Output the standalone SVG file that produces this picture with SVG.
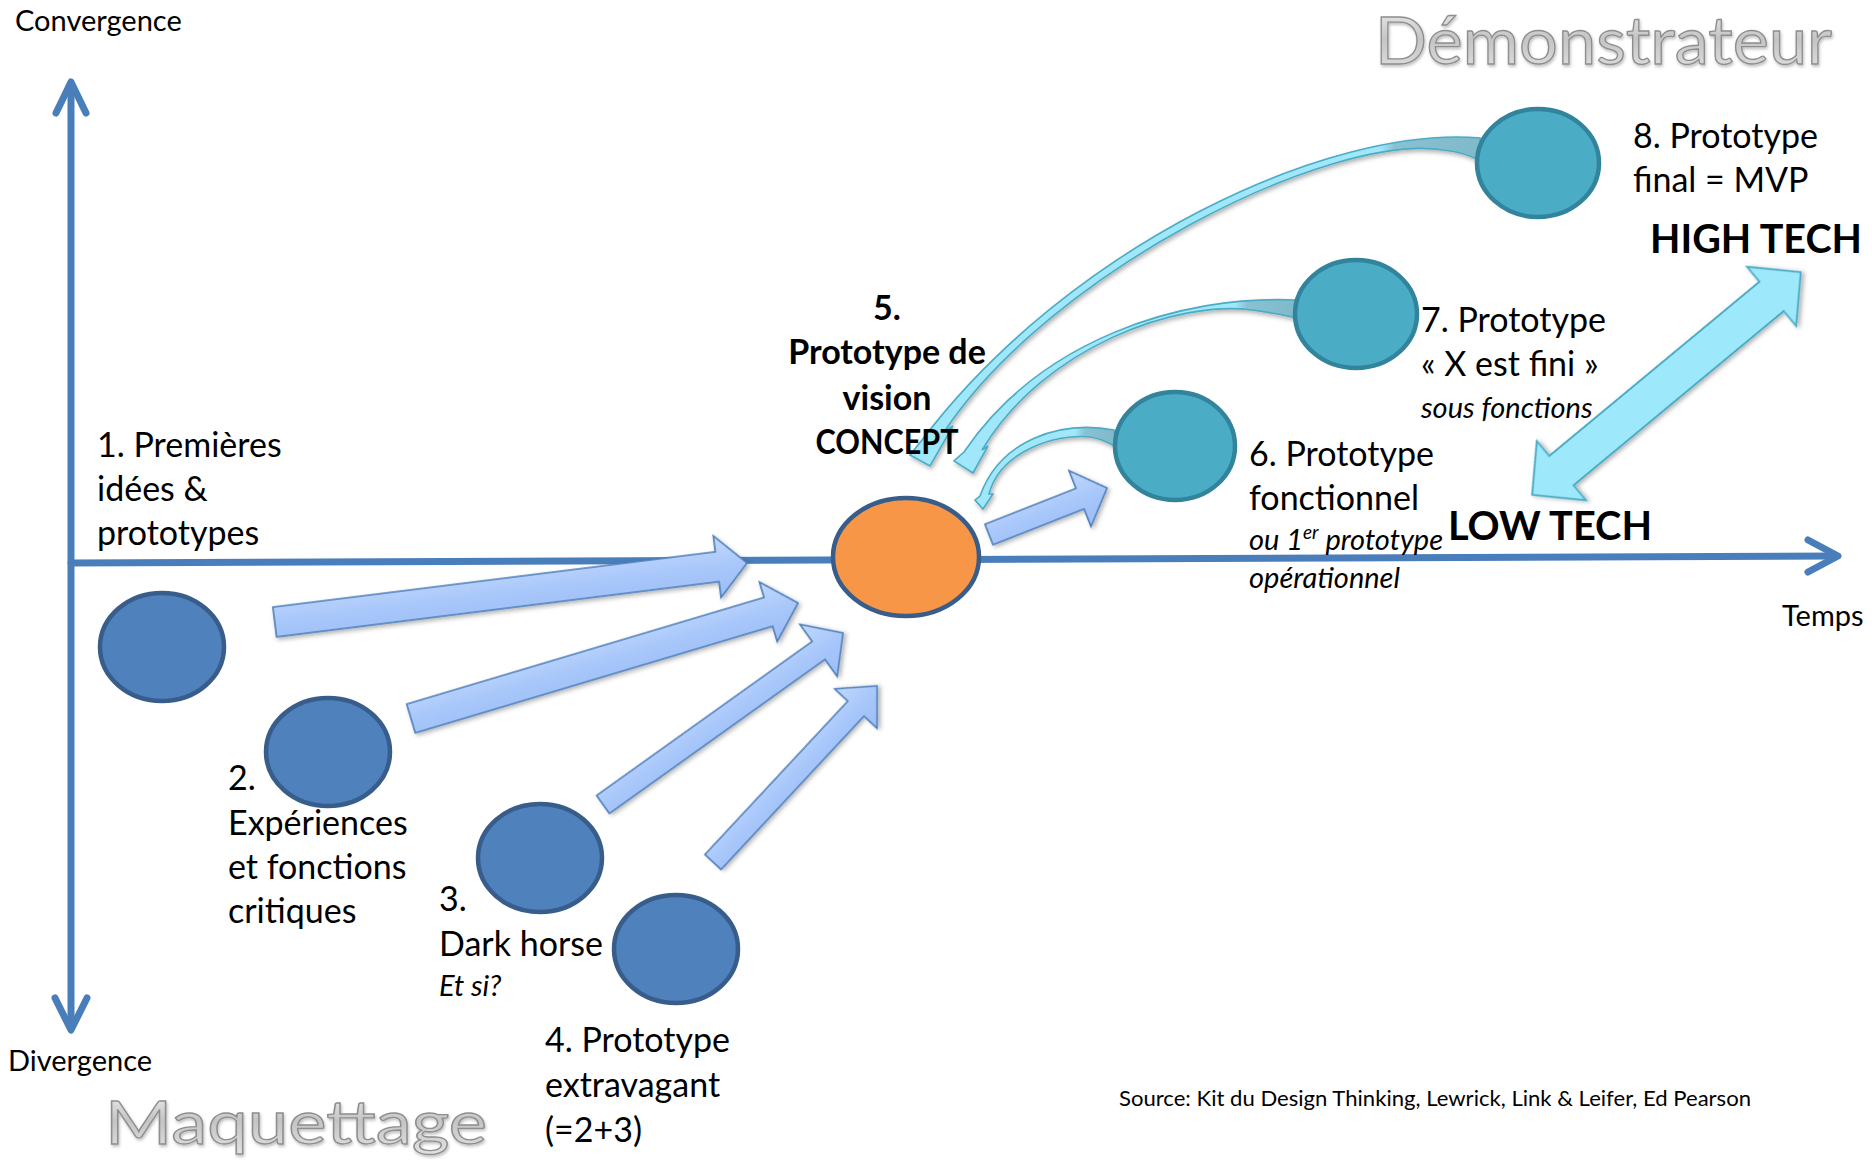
<svg xmlns="http://www.w3.org/2000/svg" width="1872" height="1160" viewBox="0 0 1872 1160">
<defs>
<style>
text{font-family:Lato,"Open Sans","Liberation Sans",sans-serif;fill:#000}
.lbl{font-size:34px}
.ax{font-size:29px}
.it{font-size:29px;font-style:italic}
.bd{font-size:34px;font-weight:bold}
.big{font-size:40px;font-weight:bold}
.silver{fill:url(#silver);stroke:#8e8e8e;stroke-width:1.3;filter:url(#tsh)}
.axis{stroke:#4A7EBB;stroke-width:7;fill:none;stroke-linecap:round;stroke-linejoin:round}
.blk{fill:url(#blkg);stroke:#4A7EBB;stroke-width:1.6;stroke-linejoin:miter;filter:url(#sh)}
.cur{stroke:#4BACC6;stroke-width:1.6;stroke-linejoin:miter;filter:url(#sh)}
.dbl{fill:#9EE8FC;stroke:#4BACC6;stroke-width:1.8;filter:url(#sh)}
.nb{fill:#4F81BD;stroke:#385D8A;stroke-width:4.5}
.nt{fill:#4BACC6;stroke:#31849B;stroke-width:4.5}
.no{fill:#F79646;stroke:#385D8A;stroke-width:4.5}
</style>
<linearGradient id="silver" x1="0" y1="0" x2="0" y2="1">
<stop offset="0" stop-color="#f4f4f4"/>
<stop offset="0.5" stop-color="#c4c4c4"/>
<stop offset="1" stop-color="#e4e4e4"/>
</linearGradient>
<linearGradient id="blkg" x1="0" y1="0" x2="0" y2="1">
<stop offset="0" stop-color="#C3D9FD"/>
<stop offset="0.5" stop-color="#A8C7FA"/>
<stop offset="1" stop-color="#9CBDF7"/>
</linearGradient>
<linearGradient id="c8g" gradientUnits="userSpaceOnUse" x1="1380" y1="0" x2="1480" y2="0">
<stop offset="0" stop-color="#A0E7FA"/>
<stop offset="0.15" stop-color="#88C2D2"/>
<stop offset="1" stop-color="#80B9CA"/>
</linearGradient>
<linearGradient id="c7g" gradientUnits="userSpaceOnUse" x1="1235" y1="0" x2="1296" y2="0">
<stop offset="0" stop-color="#A0E7FA"/>
<stop offset="0.2" stop-color="#88C2D2"/>
<stop offset="1" stop-color="#80B9CA"/>
</linearGradient>
<linearGradient id="c6g" gradientUnits="userSpaceOnUse" x1="1075" y1="0" x2="1115" y2="0">
<stop offset="0" stop-color="#A0E7FA"/>
<stop offset="0.25" stop-color="#88C2D2"/>
<stop offset="1" stop-color="#80B9CA"/>
</linearGradient>
<filter id="sh" x="-10%" y="-10%" width="130%" height="130%">
<feDropShadow dx="1.5" dy="2.5" stdDeviation="2" flood-color="#000" flood-opacity="0.3"/>
</filter>
<filter id="tsh" x="-5%" y="-10%" width="115%" height="130%">
<feDropShadow dx="1" dy="2" stdDeviation="1.5" flood-color="#000" flood-opacity="0.25"/>
</filter>
</defs>
<rect width="1872" height="1160" fill="#fff"/>

<g id="axes">
<path class="axis" d="M71,84 L71,1028"/>
<path class="axis" d="M56,113 L71,82 L86,113"/>
<path class="axis" d="M55,998 L71,1030 L87,998"/>
<path class="axis" d="M71,563 L1836,556"/>
<path class="axis" d="M1808,540 L1838,556 L1808,572"/>
</g>

<g id="connectors">
<path class="blk" transform="translate(274.75,622) rotate(-7.12)" d="M0,-15 L445.9,-15 L445.9,-31 L475.9,0 L445.9,31 L445.9,15 L0,15 Z"/>
<path class="blk" transform="translate(411,718.5) rotate(-16.62)" d="M0,-15 L372.9,-15 L372.9,-31 L403.9,0 L372.9,31 L372.9,15 L0,15 Z"/>
<path class="blk" transform="translate(603,804.5) rotate(-35.55)" d="M0,-11 L265,-11 L265,-32 L295,0 L265,32 L265,11 L0,11 Z"/>
<path class="blk" transform="translate(713,862) rotate(-47.03)" d="M0,-11 L209.6,-11 L209.6,-29 L240.6,0 L209.6,29 L209.6,11 L0,11 Z"/>
<path class="blk" transform="translate(989,534.5) rotate(-21.5)" d="M0,-11 L97.8,-11 L97.8,-30 L126.8,0 L97.8,30 L97.8,11 L0,11 Z"/>
<path class="cur" fill="url(#c8g)" d="M1480,138 C1330,125 1070,245 922,440 L910,455 L930,466 L953,426 L944,432 C1050,272 1330,132 1443,150 Q1465,152 1482,162 Z"/>
<path class="cur" fill="url(#c7g)" d="M1295,300 C1180,295 1040,340 964,452 L954,461 L973,473 L988,446 L982,450 C1045,345 1180,300 1252,310 Q1275,313 1297,318 Z"/>
<path class="cur" fill="url(#c6g)" d="M1114,430 C1060,420 1000,440 980,496 L975,500 L983,509 L993,494 L989,494 C1000,452 1055,433 1090,437 Q1103,439 1116,447 Z"/>
<path class="dbl" transform="translate(1666.5,383.5) rotate(-39.66)" d="M-174.5,0 L-136.5,-38.5 L-136.5,-19 L136.5,-19 L136.5,-38.5 L174.5,0 L136.5,38.5 L136.5,19 L-136.5,19 L-136.5,38.5 Z"/>
</g>

<g id="node1"><ellipse class="nb" cx="162" cy="647" rx="62" ry="54"/>
<text class="lbl" x="97" y="457">1. Premières</text>
<text class="lbl" x="97" y="501">idées &amp;</text>
<text class="lbl" x="97" y="545">prototypes</text></g>

<g id="node2"><ellipse class="nb" cx="328" cy="752" rx="62" ry="54"/>
<text class="lbl" x="228" y="790">2.</text>
<text class="lbl" x="228" y="835">Expériences</text>
<text class="lbl" x="228" y="879">et fonctions</text>
<text class="lbl" x="228" y="923">critiques</text></g>

<g id="node3"><ellipse class="nb" cx="540" cy="858" rx="62" ry="54"/>
<text class="lbl" x="439" y="911">3.</text>
<text class="lbl" x="439" y="956">Dark horse</text>
<text class="it" x="439" y="996">Et si?</text></g>

<g id="node4"><ellipse class="nb" cx="676" cy="949" rx="62" ry="54"/>
<text class="lbl" x="545" y="1052">4. Prototype</text>
<text class="lbl" x="545" y="1097">extravagant</text>
<text class="lbl" x="545" y="1142">(=2+3)</text></g>

<g id="node5"><ellipse class="no" cx="906" cy="557" rx="73" ry="59"/>
<text class="bd" x="887" y="320" text-anchor="middle">5.</text>
<text class="bd" x="887" y="364" text-anchor="middle">Prototype de</text>
<text class="bd" x="887" y="410" text-anchor="middle">vision</text>
<text class="bd" x="887" y="454" text-anchor="middle" textLength="143" lengthAdjust="spacingAndGlyphs">CONCEPT</text></g>

<g id="node6"><ellipse class="nt" cx="1175" cy="446" rx="60" ry="54"/>
<text class="lbl" x="1249" y="466">6. Prototype</text>
<text class="lbl" x="1249" y="510">fonctionnel</text>
<text class="it" x="1249" y="550">ou 1<tspan font-size="19" dy="-11">er</tspan><tspan dy="11"> prototype</tspan></text>
<text class="it" x="1249" y="588">opérationnel</text></g>

<g id="node7"><ellipse class="nt" cx="1356" cy="314" rx="61" ry="54"/>
<text class="lbl" x="1421" y="332">7. Prototype</text>
<text class="lbl" x="1421" y="376">« X est fini »</text>
<text class="it" x="1421" y="418">sous fonctions</text></g>

<g id="node8"><ellipse class="nt" cx="1538" cy="163" rx="61" ry="54"/>
<text class="lbl" x="1633" y="148">8. Prototype</text>
<text class="lbl" x="1633" y="192">final = MVP</text></g>

<g id="labels">
<text class="ax" x="15" y="31">Convergence</text>
<text class="ax" x="8" y="1071">Divergence</text>
<text class="ax" x="1782" y="626">Temps</text>
<text class="big" x="1650" y="253" textLength="212" lengthAdjust="spacingAndGlyphs">HIGH TECH</text>
<text class="big" x="1448" y="540" textLength="204" lengthAdjust="spacingAndGlyphs">LOW TECH</text>
<text class="silver" x="1375" y="64" font-size="65" textLength="457" lengthAdjust="spacingAndGlyphs">Démonstrateur</text>
<text class="silver" x="105" y="1144" font-size="60" textLength="382" lengthAdjust="spacingAndGlyphs">Maquettage</text>
<text x="1119" y="1106" font-size="21" textLength="632" lengthAdjust="spacingAndGlyphs">Source: Kit du Design Thinking, Lewrick, Link &amp; Leifer, Ed Pearson</text>
</g>
</svg>
